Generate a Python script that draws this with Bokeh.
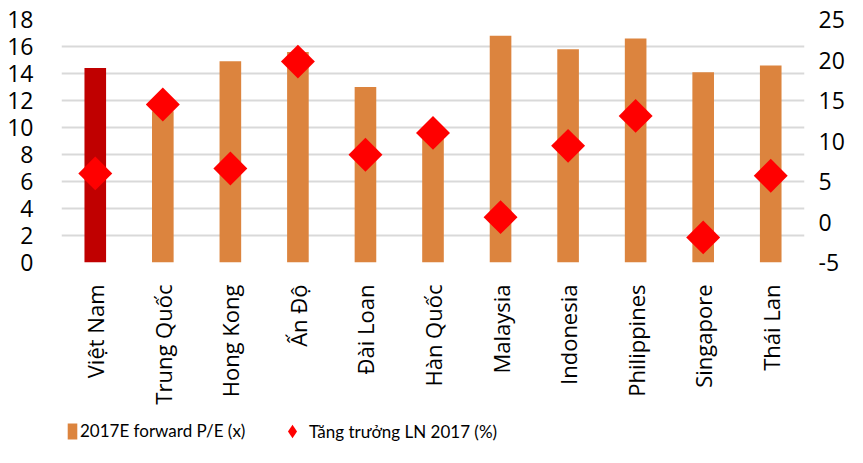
from math import pi
from bokeh.plotting import figure
from bokeh.layouts import column
from bokeh.models import (Range1d, LinearAxis, FactorRange, FixedTicker, Legend,
                          LegendItem, ColumnDataSource, CustomJSTickFormatter)
from bokeh.embed import file_html
from bokeh.resources import INLINE

categories = ["Việt Nam", "Trung Quốc", "Hong Kong", "Ấn Độ", "Đài Loan", "Hàn Quốc",
              "Malaysia", "Indonesia", "Philippines", "Singapore", "Thái Lan"]
pe_2017e = [14.4, 11.2, 14.9, 15.6, 13.0, 9.5, 16.8, 15.8, 16.6, 14.1, 14.6]
growth_2017 = [6.0, 14.5, 6.6, 19.8, 8.3, 11.0, 0.6, 9.4, 13.1, -1.9, 5.7]
left_ticks = [0, 2, 4, 6, 8, 10, 12, 14, 16, 18]
right_ticks = [-5, 0, 5, 10, 15, 20, 25]
series_names = ["2017E forward P/E (x)", "Tăng trưởng LN 2017 (%)"]

ORANGE = "#DC843E"
HIGHLIGHT = "#C00000"
RED = "#FF0000"
FONT = "Open Sans"
W = 847
H_MAIN = 407
H_LEG = 40

colors = [HIGHLIGHT if c == "Việt Nam" else ORANGE for c in categories]
src = ColumnDataSource(dict(cat=categories, pe=pe_2017e, g=growth_2017, color=colors))

p = figure(width=W, height=H_MAIN, output_backend="svg", toolbar_location=None,
           x_range=FactorRange(*categories),
           y_range=Range1d(left_ticks[0], left_ticks[-1]),
           min_border_left=61, min_border_right=36, min_border_top=19, min_border_bottom=140)
p.extra_y_ranges = {"pct": Range1d(right_ticks[0], right_ticks[-1])}
p.outline_line_color = None
p.background_fill_color = "white"
p.border_fill_color = "white"

bars = p.vbar(x="cat", top="pe", width=0.32, source=src, fill_color="color", line_color=None)
pts = p.scatter(x="cat", y="g", source=src, y_range_name="pct", marker="square",
                size=24, angle=pi / 4, fill_color=RED, line_color=None)

p.xgrid.grid_line_color = None
p.ygrid.grid_line_color = "#D9D9D9"
p.ygrid.grid_line_width = 2
p.yaxis.ticker = FixedTicker(ticks=left_ticks)

plain = CustomJSTickFormatter(code="return tick.toString();")

ry = LinearAxis(y_range_name="pct", ticker=FixedTicker(ticks=right_ticks), formatter=plain)
p.add_layout(ry, "right")

for ax in [p.yaxis[0], p.xaxis[0], ry]:
    ax.axis_line_color = None
    ax.major_tick_line_color = None
    ax.minor_tick_line_color = None
    ax.major_label_text_font = FONT
    ax.major_label_text_font_size = "23px"
    ax.major_label_text_color = "black"

p.yaxis[0].major_label_standoff = 22
ry.major_label_standoff = 8
p.xaxis[0].major_label_orientation = pi / 2
p.xaxis[0].major_label_standoff = 16
p.xaxis[0].major_label_text_font_size = "22px"

# legend strip (its frame is aligned with the main plot's frame by the column)
q = figure(width=W, height=H_LEG, output_backend="svg", toolbar_location=None,
           x_range=Range1d(0, 1), y_range=Range1d(0, 1),
           x_axis_type=None, y_axis_type=None, min_border=0)
q.outline_line_color = None
q.xgrid.visible = False
q.ygrid.visible = False
# legend-only sample glyphs placed outside the visible range
leg_bar = q.vbar(x=[-5], top=[-5], bottom=[-6], width=0.3, fill_color=ORANGE, line_color=None)
leg_pt = q.scatter(x=[-5], y=[-5], marker="diamond", fill_color=RED, line_color=None)

common = dict(orientation="horizontal", label_text_font="Lato",
              label_text_font_size="17px", label_text_color="black",
              padding=0, margin=0, border_line_color=None, background_fill_alpha=0)
leg1 = Legend(items=[LegendItem(label=series_names[0], renderers=[leg_bar])],
              location=(5, 6), glyph_width=12, glyph_height=20, label_standoff=2, **common)
leg2 = Legend(items=[LegendItem(label=series_names[1], renderers=[leg_pt])],
              location=(214, -1), glyph_width=34, glyph_height=34, label_standoff=0, **common)
q.add_layout(leg1, "center")
q.add_layout(leg2, "center")

open("out.html", "w").write(file_html(column(p, q, spacing=0), INLINE))
